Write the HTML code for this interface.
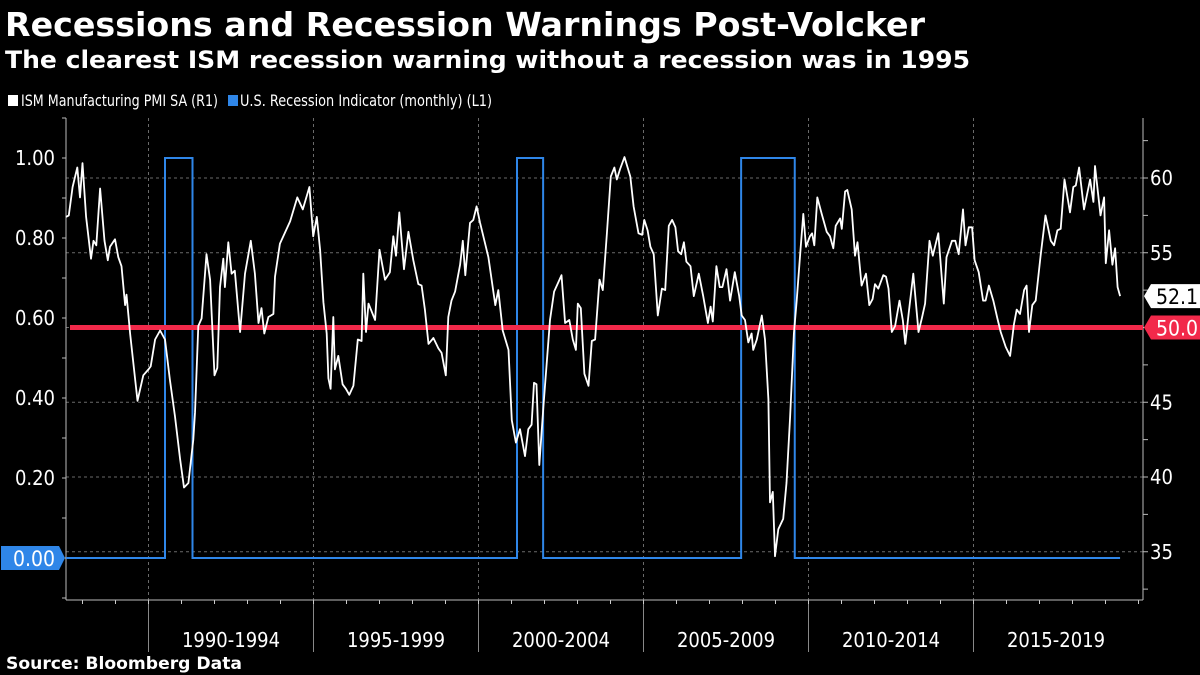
<!DOCTYPE html>
<html><head><meta charset="utf-8"><title>Recessions and Recession Warnings Post-Volcker</title>
<style>
html,body{margin:0;padding:0;background:#000;width:1200px;height:675px;overflow:hidden}
svg{display:block;font-family:"DejaVu Sans Condensed","DejaVu Sans","Liberation Sans",sans-serif}
</style></head>
<body>
<svg id="chart" width="1200" height="675" viewBox="0 0 1200 675" xmlns="http://www.w3.org/2000/svg">
<rect x="0" y="0" width="1200" height="675" fill="#000"/>
<text x="5" y="36" fill="#fff" font-weight="bold" font-size="33" textLength="920" lengthAdjust="spacingAndGlyphs">Recessions and Recession Warnings Post-Volcker</text>
<text x="5" y="68" fill="#fff" font-weight="bold" font-size="24" textLength="965" lengthAdjust="spacingAndGlyphs">The clearest ISM recession warning without a recession was in 1995</text>
<g>
<rect x="8" y="95" width="10" height="11" fill="#fff"/>
<text x="21" y="106" fill="#fff" font-size="16" textLength="197" lengthAdjust="spacingAndGlyphs">ISM Manufacturing PMI SA  (R1)</text>
<rect x="228" y="95" width="10" height="11" fill="#2f86e8"/>
<text x="240" y="106" fill="#fff" font-size="16" textLength="252" lengthAdjust="spacingAndGlyphs">U.S. Recession Indicator (monthly)  (L1)</text>
</g>
<g id="grid"></g>
<g id="axes"></g>
<g id="series"></g>
<text x="6" y="669" fill="#fff" font-weight="bold" font-size="17" textLength="236" lengthAdjust="spacingAndGlyphs">Source: Bloomberg Data</text>
</svg>
<script>
// ---- data ----
const pmiMonth = [0,1,2.4,4.1,5.1,6,7.3,9.1,10,11,12.4,14,15.2,16,17.8,19,20.2,21.5,22,23.3,26,28.1,30,30.8,32.4,34.2,36,37.8,39.6,41.5,42.9,44.5,46.3,46.9,48.1,49.3,51.1,52.4,54,55,56,57.2,57.8,59,60.2,61.4,63.3,65.1,67.2,68.7,70,71.1,72.1,73.6,75.4,76,77.8,81.5,84.1,86.1,88.5,89.9,91.2,92.4,93.6,94.8,95.4,96.2,97.2,97.8,99,100.6,101.8,103,104.5,106.1,107.5,108.1,109.1,110,112.4,114,116,117.8,119,120,121.2,122.9,124.5,126.3,128.1,129.3,130.5,131.8,133.6,135.4,136.6,138.1,139,140.2,141.5,143.3,144.3,145.2,146.9,148.1,149.3,150.6,153.6,156.1,157.2,158.8,160.9,162.1,163.6,165.1,166.9,168.1,169.3,170.2,171.1,172.1,173.6,176,177.5,180.2,181.5,183,184.3,185.4,186.1,187.2,188.5,190,191.2,192.4,194,195.2,196.7,198.1,199.4,200.3,201.5,203.1,205.2,206.4,208.2,209.5,210.3,211.5,212.5,213.7,215.2,216.7,217.9,219.2,220.4,221.6,222.6,223.7,224.7,225.6,227.1,228.3,230.1,231.7,233.4,234.4,235.2,236.5,237.7,238.7,240.2,241.5,243.2,244.8,245.7,246.9,248.1,249.3,249.9,251.2,253,254.2,255.4,256,257,257.8,259,260.8,262,263.3,264.7,265.7,267.1,268.1,269.1,270.5,271.3,272.1,273.2,274.8,276.6,277.8,279,279.9,281.5,282.1,283.3,284.1,285.7,286.9,287.8,289.3,290.9,292.1,293.3,294.2,295.4,297.2,298.2,299.1,300.3,301.5,303.1,304.3,305.2,306.4,308.1,310,311.2,312.4,314,315.2,317.2,319.2,320.2,322.2,323.4,324.6,326.2,327.1,328.3,329.5,330.4,331.9,333.5,334.4,335.6,337.2,338.7,339.9,341.7,343.3,344.7,345.7,346.9,348.4,349.3,350.2,351.4,352.6,354.4,356.2,358.1,359.3,360.5,361.7,363.1,365.1,366.3,367.2,368.4,370.2,372.4,373.6,374.2,376.2,377.5,378.1,379.3,380.5,381.5,382.4,383.3];
const pmiValue = [57.4,57.5,59.4,60.7,58.7,61,57.4,54.6,55.8,55.5,59.3,55.8,54.5,55.4,55.9,54.7,54.1,51.5,52.2,49.6,45.1,46.8,47.2,47.4,49.2,49.8,49.2,46.5,44.1,41.2,39.3,39.6,42.5,44.3,50.1,50.6,54.9,53.2,46.8,47.3,52.7,54.6,52.7,55.7,53.6,53.8,49.7,53.6,55.8,53.6,50.3,51.3,49.6,50.7,50.9,53.4,55.6,57.1,58.7,57.9,59.4,56.1,57.4,55.2,51.7,49.6,46.6,45.9,50.7,47.2,48.1,46.2,45.9,45.5,46.1,49.2,49.1,53.6,49.7,51.6,50.5,55.2,53.2,53.7,56.1,54.8,57.7,53.9,56.4,54.5,52.9,52.8,51.2,48.9,49.3,48.6,48.3,46.8,50.7,51.8,52.4,54.2,55.8,53.5,57,57.2,58.1,57,54.7,51.5,52.5,49.8,48.5,43.8,42.3,43.2,41.4,43.2,43.5,46.3,46.2,40.8,44.7,50.5,52.4,53.5,50.3,50.5,49.2,48.5,51.6,51.3,46.9,46.1,49.1,49.2,53.2,52.5,56.3,60.1,60.7,59.9,60.6,61.4,60.1,58.1,56.3,56.2,57.2,56.5,55.4,54.9,50.8,52.6,52.5,56.8,57.2,56.7,55.1,54.9,55.7,54.4,54.1,52.1,53.6,52.1,50.3,51.4,50.4,54.1,52.7,52.7,53.9,51.8,53.7,52.1,50.8,50.5,49,49.6,48.5,49.2,50.8,49.2,45.2,38.3,39,34.7,36.5,37.2,39.6,44,49.6,51.8,55.2,57.6,55.4,56.1,56.3,55.5,58.7,57.6,56.4,56.1,55.3,56.8,57.3,56.6,59.1,59.2,57.9,54.8,55.7,52.8,53.6,51.5,51.9,52.9,52.6,53.5,53.4,52.6,49.7,50.1,51.8,50.5,48.9,50.9,53.6,49.7,50.6,51.6,55.8,54.8,56.3,51.6,54.7,55.8,55.8,54.9,57.9,55.5,56.7,56.7,54.5,53.7,51.8,51.8,52.8,51.8,50.6,49.7,48.7,48.1,50.2,51.2,50.9,52.5,52.8,49.7,51.5,51.8,54.8,57.5,55.8,55.5,56.5,56.6,59.9,57.7,59.4,59.5,60.7,57.9,59.9,58.4,60.8,57.5,58.7,54.3,56.5,54.2,55.3,52.7,52.1];
const recStart = [36, 164, 245.5];
const recEnd = [46, 173.5, 265];
const seriesEnd = 383.3;
const leftTicks = [0, 0.2, 0.4, 0.6, 0.8, 1.0];
const rightTicks = [35, 40, 45, 50, 55, 60];
const periodLabels = ["1990-1994","1995-1999","2000-2004","2005-2009","2010-2014","2015-2019"];
const periodStartMonth = [30, 90, 150, 210, 270, 330];
const thresholdValue = 50;
const lastValueLabel = "52.1";

// ---- scales ----
const NS = "http://www.w3.org/2000/svg";
const X0 = 66, PER_MONTH = 2.75, XR = 1143, YT = 118, YB = 600;
const xS = k => X0 + k * PER_MONTH;
const yL = v => 558 - 400 * v;
const yR = v => 327.5 - (v - 50) * 14.95;
function mk(tag, attrs, parent, txt){const e=document.createElementNS(NS,tag);for(const k in attrs)e.setAttribute(k,attrs[k]);if(txt!==undefined)e.textContent=txt;parent.appendChild(e);return e;}
const grid=document.getElementById('grid'), axes=document.getElementById('axes'), series=document.getElementById('series');

rightTicks.forEach(v=>{
  const l=mk('line',{x1:X0,x2:XR,y1:yR(v),y2:yR(v),stroke:'#6a6a6a','stroke-width':1,'stroke-dasharray':'3,3'},grid);
  
  
});
periodStartMonth.forEach((m,i)=>{
  const x=xS(m);
  const l=mk('line',{x1:x,x2:x,y1:YT,y2:YB,stroke:'#6a6a6a','stroke-width':1,'stroke-dasharray':'3,3'},grid);
  
  
  const s=mk('line',{x1:x,x2:x,y1:YB,y2:652,stroke:'#888','stroke-width':1},axes);
  
  
  const next = i+1<periodStartMonth.length ? xS(periodStartMonth[i+1]) : xS(m+60);
  const t=mk('text',{x:(x+next)/2,y:647,fill:'#fff','font-size':20,'text-anchor':'middle'},axes,periodLabels[i]);
  
  
});
for(let m=6; xS(m)<XR; m+=12){
  const t=mk('line',{x1:xS(m),x2:xS(m),y1:YB,y2:YB+4,stroke:'#ccc','stroke-width':1},axes);
  
  
}
const ax1=mk('line',{x1:X0,x2:X0,y1:YT,y2:YB,stroke:'#bbb','stroke-width':1},axes);


const ax2=mk('line',{x1:XR,x2:XR,y1:YT,y2:YB,stroke:'#bbb','stroke-width':1},axes);


const ax3=mk('line',{x1:X0,x2:XR,y1:YB,y2:YB,stroke:'#bbb','stroke-width':1},axes);


leftTicks.forEach(v=>{
  if(v===0) return;
  const t=mk('text',{x:55,y:yL(v)+7,fill:'#fff','font-size':20,'text-anchor':'end'},axes,v.toFixed(2));
  
  
});
for(let v=-0.1; v<=1.12; v+=0.1){
  const y=yL(v); if(y<YT||y>YB) continue;
  const m=mk('line',{x1:X0-4,x2:X0,y1:y,y2:y,stroke:'#bbb','stroke-width':1},axes);
  
  
}
rightTicks.forEach(v=>{
  if(v===thresholdValue) return;
  const t=mk('text',{x:1150,y:yR(v)+7,fill:'#fff','font-size':20},axes,String(v));
  
  
});
for(let v=32.5; v<=62.5; v+=2.5){
  const y=yR(v); if(y<YT||y>YB) continue;
  const m=mk('line',{x1:XR,x2:XR+5,y1:y,y2:y,stroke:'#bbb','stroke-width':1},axes);
  
  
}

let d='M'+xS(0)+','+yL(0);
recStart.forEach((s,i)=>{
  d+=' L'+xS(s)+','+yL(0)+' L'+xS(s)+','+yL(1)+' L'+xS(recEnd[i])+','+yL(1)+' L'+xS(recEnd[i])+','+yL(0);
});
d+=' L'+xS(seriesEnd)+','+yL(0);
const rec=mk('path',{d:d,fill:'none',stroke:'#2f86e8','stroke-width':2},series);



const th=mk('line',{x1:70,x2:XR,y1:yR(thresholdValue),y2:yR(thresholdValue),stroke:'#f2294a','stroke-width':5},series);



const pts=pmiMonth.map((m,i)=>xS(m).toFixed(1)+','+yR(pmiValue[i]).toFixed(1)).join(' ');
const pl=mk('polyline',{points:pts,fill:'none',stroke:'#fff','stroke-width':1.8,'stroke-linejoin':'round'},series);



function badge(y,fill,txtFill,label,name,xL,w){
  const g=mk('g',{},series);
  
  
  mk('path',{d:'M'+xL+','+y+' L'+(xL+7)+','+(y-12)+' L'+(xL+w)+','+(y-12)+' L'+(xL+w)+','+(y+12)+' L'+(xL+7)+','+(y+12)+' Z',fill:fill},g);
  mk('text',{x:xL+w-2,y:y+8,fill:txtFill,'font-size':21,'text-anchor':'end'},g,label);
}
badge(yR(pmiValue[pmiValue.length-1]),'#fff','#000',lastValueLabel,'last-value-badge',1144,56);
badge(yR(thresholdValue),'#f2294a','#fff',thresholdValue.toFixed(1),'threshold-badge',1144,56);
const lb=mk('g',{},series);


const y0=yL(0);
mk('path',{d:'M1,'+(y0-12)+' L59,'+(y0-12)+' L65,'+y0+' L59,'+(y0+12)+' L1,'+(y0+12)+' Z',fill:'#2f86e8'},lb);
mk('text',{x:55,y:y0+8,fill:'#fff','font-size':21,'text-anchor':'end'},lb,'0.00');
</script>
</body></html>
